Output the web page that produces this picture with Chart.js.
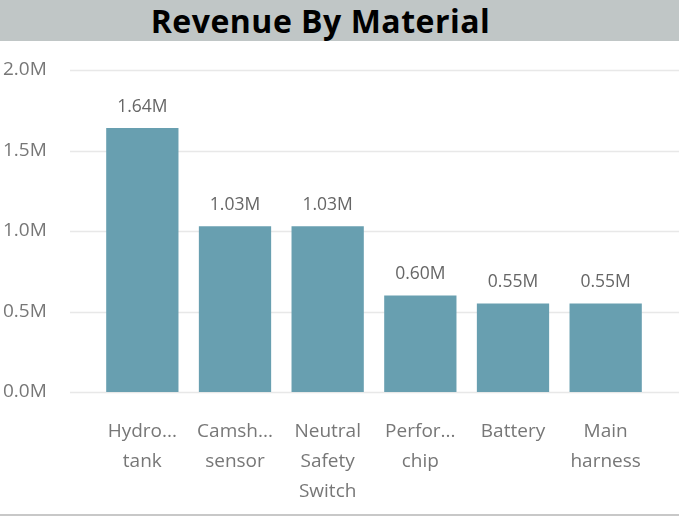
<!DOCTYPE html>
<html>
<head>
<meta charset="utf-8">
<script src="https://cdn.jsdelivr.net/npm/chart.js@4/dist/chart.umd.min.js"></script>
<style>
    html, body { margin: 0; padding: 0; background: #fff; }
    #wrap { position: relative; width: 679px; height: 519px; overflow: hidden; }
    #title {
        position: absolute; left: 0; top: 0; width: 679px; height: 41px;
        background: #c0c6c6; color: #000;
        font-family: "Open Sans", sans-serif; font-weight: 700; font-size: 32px;
        letter-spacing: 0.5px;
        line-height: 42px; text-align: center; box-sizing: border-box; padding-right: 38px;
    }
    #box { position: absolute; left: 0; top: 41px; width: 679px; height: 478px; }
</style>
</head>
<body>
<div id="wrap">
    <div id="title">Revenue By Material</div>
    <div id="box"><canvas id="chart"></canvas></div>
</div>
<script>
// revenue by material, in millions
const materials = [
    ['Hydro...', 'tank'],
    ['Camsh...', 'sensor'],
    ['Neutral', 'Safety', 'Switch'],
    ['Perfor...', 'chip'],
    'Battery',
    ['Main', 'harness']
];
const revenue = [1.64, 1.03, 1.03, 0.60, 0.55, 0.55];
const yTicks = [0, 0.5, 1.0, 1.5, 2.0];

const barColor = '#689fb0';
const textGray = '#777777';
const fontFamily = '"Open Sans", sans-serif';

// grid lines run wider than the bar area, like the original
const gridPlugin = {
    id: 'wideGrid',
    beforeDatasetsDraw(chart) {
        const ctx = chart.ctx;
        const y = chart.scales.y;
        ctx.save();
        ctx.strokeStyle = '#e8e8e8';
        ctx.lineWidth = 1.5;
        yTicks.forEach(v => {
            const py = Math.round(y.getPixelForValue(v)) + 0.5;
            ctx.beginPath();
            ctx.moveTo(70, py);
            ctx.lineTo(chart.width, py);
            ctx.stroke();
        });
        // bottom border
        ctx.strokeStyle = '#c8c8c8';
        ctx.lineWidth = 2;
        ctx.beginPath();
        ctx.moveTo(0, chart.height - 4);
        ctx.lineTo(chart.width, chart.height - 4);
        ctx.stroke();
        ctx.restore();
    }
};

const labelPlugin = {
    id: 'barLabels',
    afterDatasetsDraw(chart) {
        const ctx = chart.ctx;
        const meta = chart.getDatasetMeta(0);
        ctx.save();
        ctx.fillStyle = '#666666';
        ctx.font = '17.5px ' + fontFamily;
        ctx.textAlign = 'center';
        ctx.textBaseline = 'middle';
        meta.data.forEach((bar, i) => {
            ctx.fillText(revenue[i].toFixed(2) + 'M', bar.x, bar.y - 21);
        });
        ctx.restore();
    }
};

new Chart(document.getElementById('chart').getContext('2d'), {
    type: 'bar',
    data: {
        labels: materials,
        datasets: [{
            data: revenue,
            backgroundColor: barColor,
            borderWidth: 0,
            categoryPercentage: 0.78,
            barPercentage: 1.0
        }]
    },
    options: {
        responsive: true,
        maintainAspectRatio: false,
        animation: false,
        layout: { padding: { top: 29, right: 27, bottom: 0, left: 3 } },
        plugins: {
            legend: { display: false },
            tooltip: { enabled: false }
        },
        scales: {
            x: {
                afterFit(scale) { scale.height = 127; },
                grid: { display: false },
                border: { display: false },
                ticks: {
                    color: textGray,
                    font: { family: fontFamily, size: 19, lineHeight: 1.56 },
                    padding: 17,
                    maxRotation: 0,
                    autoSkip: false
                }
            },
            y: {
                min: 0,
                max: 2.0,
                afterFit(scale) { scale.width = 93; },
                grid: { display: false },
                border: { display: false },
                ticks: {
                    stepSize: 0.5,
                    crossAlign: 'far',
                    color: textGray,
                    font: { family: fontFamily, size: 19 },
                    callback: v => v.toFixed(1) + 'M'
                }
            }
        }
    },
    plugins: [gridPlugin, labelPlugin]
});
</script>
</body>
</html>
